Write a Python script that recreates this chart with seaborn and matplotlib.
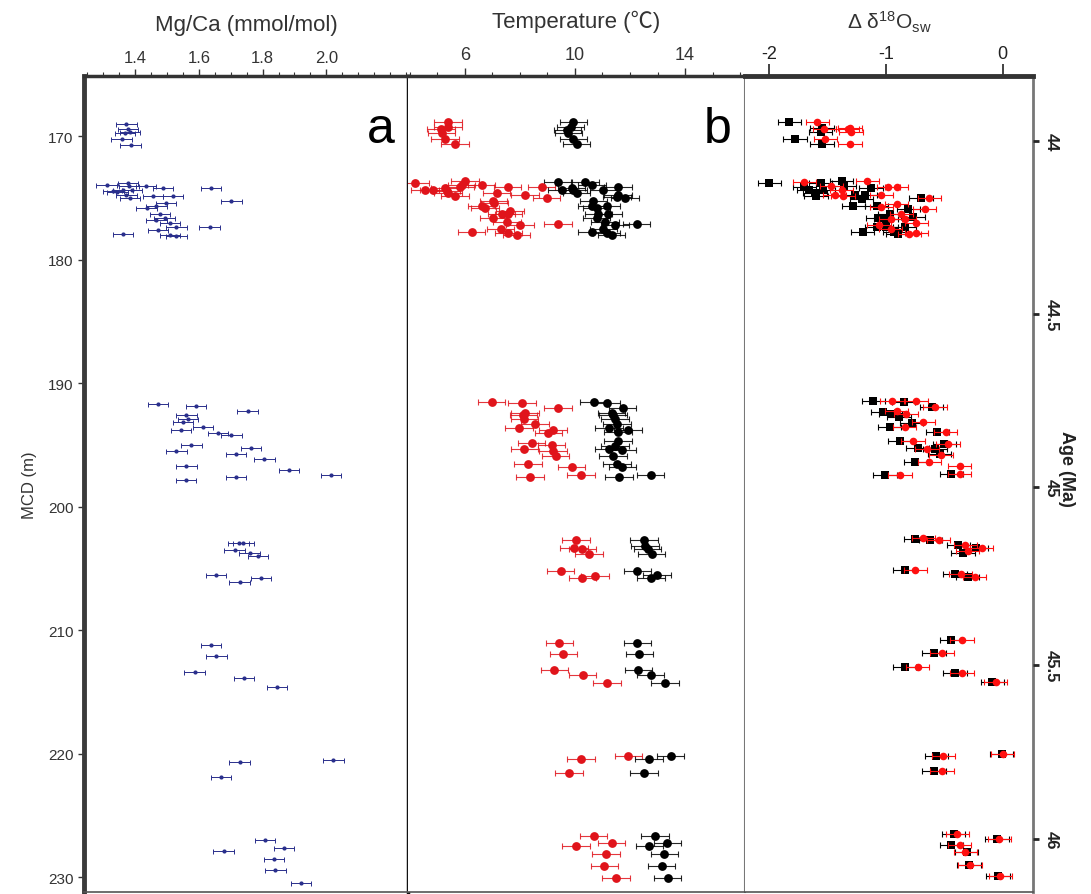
import numpy as np
import pandas as pd
import matplotlib
matplotlib.use("Agg")
import matplotlib.pyplot as plt
from matplotlib.ticker import MultipleLocator, FixedLocator
import seaborn as sns

# ---------------- data ----------------
# Panel a: Mg/Ca (mmol/mol) vs depth (MCD, m)
mgca_depth = [168.97, 169.4, 169.6, 169.7, 170.2, 170.7,
              173.9, 174.4, 173.75, 174.0, 174.3, 174.7, 175.0, 174.0, 174.2, 174.2, 175.2,
              174.8, 174.8, 175.4, 175.8, 175.6, 176.3, 176.6, 176.8, 177.0, 177.3, 177.3,
              177.6, 178.0, 178.1, 177.9, 174.5, 174.3,
              191.7, 191.8, 192.2, 192.6, 192.9, 193.1, 193.5, 193.8, 194.0, 194.2, 195.0,
              195.5, 195.2, 195.7, 196.1, 196.7, 197.0, 197.4, 197.8, 197.6,
              202.9, 202.9, 203.5, 203.7, 204.0, 205.5, 206.1, 205.8, 211.2, 212.1, 213.4,
              213.9, 214.6, 220.5, 220.7, 221.9, 227.0, 227.6, 227.9, 228.5, 229.4, 230.5]
mgca_value = [1.373, 1.378, 1.384, 1.368, 1.358, 1.386,
              1.311, 1.332, 1.378, 1.381, 1.363, 1.373, 1.384, 1.434, 1.488, 1.639, 1.702,
              1.457, 1.519, 1.498, 1.436, 1.467, 1.478, 1.493, 1.467, 1.509, 1.530, 1.634,
              1.472, 1.509, 1.530, 1.363, 1.345, 1.390,
              1.472, 1.592, 1.753, 1.561, 1.566, 1.550, 1.613, 1.545, 1.660, 1.702, 1.577,
              1.530, 1.764, 1.717, 1.806, 1.561, 1.882, 2.014, 1.559, 1.717,
              1.725, 1.740, 1.712, 1.759, 1.785, 1.653, 1.728, 1.795, 1.639, 1.655, 1.587,
              1.741, 1.845, 2.022, 1.728, 1.670, 1.807, 1.867, 1.678, 1.835, 1.840, 1.920]
mgca_err = 0.032

# Panel b: temperature (deg C), red and black series
temp_red_depth = [168.8, 169.2, 169.4, 169.7, 170.2, 170.6,
                  173.75, 174.35, 174.35, 174.2, 174.4, 174.6, 174.8, 173.9, 173.6, 174.1,
                  173.9, 174.6, 174.1, 174.75, 174.1, 175.0, 175.2, 175.4, 175.6, 175.8,
                  176.0, 176.3, 176.6, 176.3, 176.9, 177.2, 177.5, 177.8, 178.0, 177.7, 177.1,
                  191.5, 191.6, 192.0, 192.4, 192.6, 192.9, 193.3, 193.6, 193.8, 194.0,
                  194.8, 195.3, 195.0, 195.5, 195.9, 196.5, 196.8, 197.4, 197.6,
                  202.7, 203.3, 203.4, 203.8, 205.2, 205.6, 205.8, 211.0, 211.9, 213.2,
                  213.6, 214.3, 220.2, 220.4, 221.6, 226.7, 227.2, 227.5, 228.1, 229.1, 230.1]
temp_red = [5.39, 5.39, 5.13, 5.15, 5.27, 5.64,
            4.18, 4.55, 4.85, 5.27, 5.33, 5.39, 5.64, 5.88, 6.0, 5.82,
            6.61, 7.15, 7.55, 8.18, 8.79, 8.97, 7.03, 7.07, 6.61, 6.73,
            7.64, 7.58, 7.03, 7.33, 7.52, 8.0, 7.30, 7.58, 7.88, 6.24, 9.39,
            6.97, 8.08, 9.39, 8.18, 8.12, 8.16, 8.55, 7.96, 9.21, 9.03,
            8.42, 8.16, 9.15, 9.21, 9.30, 8.30, 9.88, 10.22, 8.36,
            10.04, 9.96, 10.27, 10.51, 9.48, 10.73, 10.27, 9.43, 9.58, 9.25,
            10.28, 11.17, 11.94, 10.21, 9.79, 10.68, 11.33, 10.03, 11.13, 11.07, 11.50]
temp_blk_depth = [168.8, 169.2, 169.5, 169.7, 170.2, 170.6,
                  173.7, 174.3, 174.2, 174.35, 174.6, 173.7, 173.9, 174.3, 174.1, 174.7,
                  175.0, 174.9, 175.2, 175.6, 175.8, 175.6, 176.3, 176.3, 176.6, 176.9,
                  177.2, 177.1, 177.7, 177.5, 177.85, 178.0,
                  191.5, 191.6, 192.0, 192.4, 192.6, 192.9, 193.3, 193.6, 193.9, 193.8,
                  194.7, 195.1, 195.3, 195.4, 195.9, 196.5, 196.8, 197.4, 197.6,
                  202.7, 203.2, 203.4, 203.8, 205.2, 205.5, 205.8, 211.0, 211.9, 213.2,
                  213.6, 214.3, 220.2, 220.4, 221.6, 226.7, 227.2, 227.5, 228.1, 229.1, 230.1]
temp_blk = [9.94, 9.84, 9.72, 9.76, 9.94, 10.06,
            9.39, 9.52, 9.88, 9.94, 10.06, 10.36, 10.61, 11.03, 11.57, 11.57,
            11.82, 11.52, 10.67, 10.61, 10.79, 11.15, 10.85, 11.21, 10.79, 11.09,
            11.45, 12.24, 10.61, 11.03, 11.15, 11.33,
            10.69, 11.15, 11.73, 11.33, 11.39, 11.45, 11.52, 11.24, 11.57, 11.92,
            11.57, 11.45, 11.24, 11.70, 11.39, 11.52, 11.72, 12.75, 11.60,
            12.50, 12.55, 12.64, 12.79, 12.27, 12.99, 12.76, 12.27, 12.34, 12.30,
            12.75, 13.28, 13.48, 12.69, 12.51, 12.91, 13.36, 12.70, 13.25, 13.15, 13.37]
temp_err = 0.5

# Panel c: delta d18O seawater, black squares and red circles
d18_blk_depth = [168.8, 169.3, 169.6, 170.2, 170.6,
                 173.75, 174.1, 174.3, 174.6, 174.8, 173.75, 174.35, 173.6, 174.0, 174.2,
                 174.7, 174.7, 175.1, 175.6, 175.0, 175.6, 176.6, 176.3, 175.9, 176.5,
                 177.3, 177.3, 177.7, 177.3, 177.7, 177.9, 176.7,
                 191.4, 191.5, 191.9, 192.3, 192.5, 192.7, 193.2, 193.5, 193.9, 194.7,
                 195.2, 195.3, 194.9, 195.7, 196.4, 197.3, 197.4,
                 202.6, 202.7, 203.1, 203.3, 203.7, 205.1, 205.4, 205.7, 210.8, 211.8,
                 213.0, 213.5, 214.2, 220.0, 220.2, 221.4, 226.5, 227.4, 228.0, 229.0,
                 226.9, 229.9]
d18_blk = [-1.83, -1.55, -1.56, -1.78, -1.55,
           -2.00, -1.70, -1.66, -1.61, -1.60, -1.56, -1.54, -1.38, -1.36, -1.13,
           -1.27, -1.18, -1.21, -1.28, -0.70, -1.08, -1.07, -0.97, -0.81, -0.77,
           -1.08, -1.00, -0.93, -0.84, -1.20, -0.90, -1.00,
           -1.11, -0.85, -0.61, -1.03, -0.96, -0.89, -0.78, -0.97, -0.56, -0.88,
           -0.73, -0.58, -0.50, -0.54, -0.75, -0.44, -1.01,
           -0.75, -0.62, -0.38, -0.23, -0.34, -0.84, -0.41, -0.30, -0.44, -0.59,
           -0.84, -0.41, -0.09, -0.01, -0.57, -0.59, -0.42, -0.44, -0.31, -0.29,
           -0.05, -0.04]
d18_red_depth = [168.8, 169.4, 169.3, 169.6, 169.4, 170.2, 170.6,
                 173.7, 174.0, 173.6, 174.3, 174.7, 174.8, 174.1, 174.1, 174.7, 175.0,
                 175.5, 175.9, 175.7, 176.7, 176.3, 177.0, 177.5, 177.9, 177.8, 176.7, 177.2,
                 191.4, 191.4, 191.9, 192.2, 192.5, 193.1, 193.5, 193.9, 194.7, 195.3,
                 194.9, 195.8, 196.4, 196.7, 197.3, 197.4,
                 202.5, 202.7, 203.1, 203.3, 203.6, 205.1, 205.4, 205.7, 210.8, 211.8,
                 213.0, 213.5, 214.2, 220.0, 220.2, 221.4, 226.5, 227.4, 228.0, 229.0,
                 226.9, 229.9]
d18_red = [-1.59, -1.53, -1.31, -1.30, -1.33, -1.52, -1.31,
           -1.70, -1.47, -1.16, -1.38, -1.44, -1.37, -0.98, -0.91, -1.04, -0.63,
           -0.91, -0.67, -1.04, -0.96, -0.87, -0.74, -0.96, -0.80, -0.74, -0.84, -1.06,
           -0.95, -0.74, -0.58, -0.91, -0.83, -0.68, -0.84, -0.49, -0.77, -0.65,
           -0.47, -0.53, -0.63, -0.37, -0.37, -0.88,
           -0.68, -0.55, -0.32, -0.18, -0.30, -0.75, -0.36, -0.24, -0.35, -0.52,
           -0.73, -0.35, -0.06, 0.00, -0.51, -0.52, -0.39, -0.37, -0.32, -0.28,
           -0.03, -0.02]
d18_err = 0.1

# Age axis (Ma) and the depths where they fall
age_labels = ["44", "44.5", "45", "45.5", "46"]
age_depths = [170.4, 184.4, 198.4, 212.8, 226.9]

depth_ticks = [170, 180, 190, 200, 210, 220, 230]

# ---------------- style ----------------
sns.set_style("white")
plt.rcParams["font.family"] = ["Liberation Sans", "Noto Sans CJK SC", "DejaVu Sans"]
plt.rcParams["mathtext.fontset"] = "custom"
plt.rcParams["mathtext.rm"] = "Liberation Sans"
plt.rcParams["mathtext.it"] = "Liberation Sans:italic"

W, H = 1091, 895
fig = plt.figure(figsize=(W / 100, H / 100), dpi=100)
top_px, bot_px = 77, 893
def axpos(x0, x1):
    return [x0 / W, 1 - bot_px / H, (x1 - x0) / W, (bot_px - top_px) / H]

axa = fig.add_axes(axpos(84, 408))
axb = fig.add_axes(axpos(408, 745))
axc = fig.add_axes(axpos(745, 1033))

YLIM = (231.2, 165.1)
NAVY = "#2a2f8c"
RED_B = "#e0141b"
RED_C = "#ff1010"

# Panel a
dfa = pd.DataFrame({"depth": mgca_depth, "mgca": mgca_value})
axa.errorbar(dfa["mgca"], dfa["depth"], xerr=mgca_err, fmt="none", ecolor=NAVY,
             elinewidth=0.7, capsize=1.8, capthick=0.7, zorder=2)
sns.scatterplot(data=dfa, x="mgca", y="depth", ax=axa, color=NAVY, s=9,
                linewidth=0, zorder=3)
axa.set_xlim(1.24, 2.256)

# Panel b
dfr = pd.DataFrame({"depth": temp_red_depth, "t": temp_red})
dfk = pd.DataFrame({"depth": temp_blk_depth, "t": temp_blk})
for df, col in [(dfr, RED_B), (dfk, "black")]:
    axb.errorbar(df["t"], df["depth"], xerr=temp_err, fmt="none", ecolor=col,
                 elinewidth=0.8, capsize=2, capthick=0.8, alpha=0.85, zorder=2)
    sns.scatterplot(data=df, x="t", y="depth", ax=axb, color=col, s=40,
                    linewidth=0, zorder=3)
axb.set_xlim(3.93, 16.18)

# Panel c
dck = pd.DataFrame({"depth": d18_blk_depth, "d": d18_blk})
dcr = pd.DataFrame({"depth": d18_red_depth, "d": d18_red})
axc.errorbar(dck["d"], dck["depth"], xerr=d18_err, fmt="none", ecolor="black",
             elinewidth=0.8, capsize=2, capthick=0.8, zorder=2)
sns.scatterplot(data=dck, x="d", y="depth", ax=axc, color="black", marker="s", s=26,
                linewidth=0, zorder=3)
axc.errorbar(dcr["d"], dcr["depth"], xerr=d18_err, fmt="none", ecolor=RED_C,
             elinewidth=0.8, capsize=2, capthick=0.8, zorder=4)
sns.scatterplot(data=dcr, x="d", y="depth", ax=axc, color=RED_C, s=30,
                linewidth=0, zorder=5)
axc.set_xlim(-2.21, 0.26)

for ax in (axa, axb, axc):
    ax.set_ylim(*YLIM)
    ax.set_ylabel("")
    ax.xaxis.tick_top()
    ax.xaxis.set_label_position("top")
    for s in ax.spines.values():
        s.set_color("#555555")
        s.set_linewidth(1.2)
    ax.spines["top"].set_color("#333333")
    ax.spines["top"].set_linewidth(2.5)

# panel a axes
axa.xaxis.set_major_locator(FixedLocator([1.4, 1.6, 1.8, 2.0]))
axa.xaxis.set_minor_locator(MultipleLocator(0.05))
axa.set_xticklabels(["1.4", "1.6", "1.8", "2.0"])
axa.tick_params(axis="x", which="major", direction="out", length=5, width=1,
                labelsize=12, pad=3, colors="#333333")
axa.tick_params(axis="x", which="minor", direction="out", length=3, width=0.8,
                colors="#333333")
axa.set_xlabel("Mg/Ca (mmol/mol)", fontsize=16, labelpad=14, color="#333333")
axa.set_yticks(depth_ticks)
axa.set_yticklabels([str(v) for v in depth_ticks])
axa.tick_params(axis="y", direction="out", length=4, width=1, labelsize=11,
                left=True, colors="#333333")
axa.set_ylabel("MCD (m)", fontsize=12, labelpad=8, color="#333333")
axa.spines["left"].set_linewidth(3.5)
axa.spines["left"].set_color("#3a3a3a")
axa.spines["right"].set_linewidth(2.5)
axa.spines["right"].set_color("#111111")
axa.text(0.915, 0.935, "a", transform=axa.transAxes, fontsize=36,
         ha="center", va="center", color="black")

# panel b axes
axb.xaxis.set_major_locator(FixedLocator([6, 10, 14]))
axb.xaxis.set_minor_locator(MultipleLocator(1))
axb.tick_params(axis="x", which="major", direction="out", length=6, width=1,
                labelsize=13, pad=3, colors="#333333")
axb.tick_params(axis="x", which="minor", direction="out", length=3, width=0.8,
                colors="#333333")
axb.set_xlabel("Temperature (\u2103)", fontsize=16, labelpad=14, color="#333333")
axb.set_yticks([])
axb.spines["left"].set_visible(False)
axb.spines["right"].set_color("#777777")
axb.spines["right"].set_linewidth(1.5)
axb.text(0.92, 0.935, "b", transform=axb.transAxes, fontsize=36,
         ha="center", va="center", color="black")

# panel c axes
axc.xaxis.set_major_locator(FixedLocator([-2, -1, 0]))
axc.set_xticklabels(["-2", "-1", "0"])
axc.tick_params(axis="x", which="major", direction="out", length=9, width=1.2,
                labelsize=13, pad=1, colors="#222222")
axc.set_xlabel(r"$\mathregular{\Delta\ \delta^{18}O_{sw}}$", fontsize=15,
               labelpad=12, color="#333333")
axc.set_yticks([])
axc.spines["left"].set_visible(False)
axc.spines["right"].set_color("#777777")
axc.spines["right"].set_linewidth(2)
axc.spines["top"].set_linewidth(3.5)

# Age axis
axage = axc.twinx()
axage.set_ylim(*YLIM)
axage.set_yticks(age_depths)
axage.set_yticklabels(age_labels, rotation=270, va="center", fontsize=12,
                      fontweight="bold", color="#222222")
axage.tick_params(axis="y", direction="out", length=4, width=2, pad=4)
for s in axage.spines.values():
    s.set_visible(False)
axage.set_ylabel("Age (Ma)", rotation=270, fontsize=13, fontweight="bold",
                 labelpad=16, color="#222222")
axage.yaxis.set_label_coords(1.145, 0.52)

fig.savefig("out.png", dpi=100)
